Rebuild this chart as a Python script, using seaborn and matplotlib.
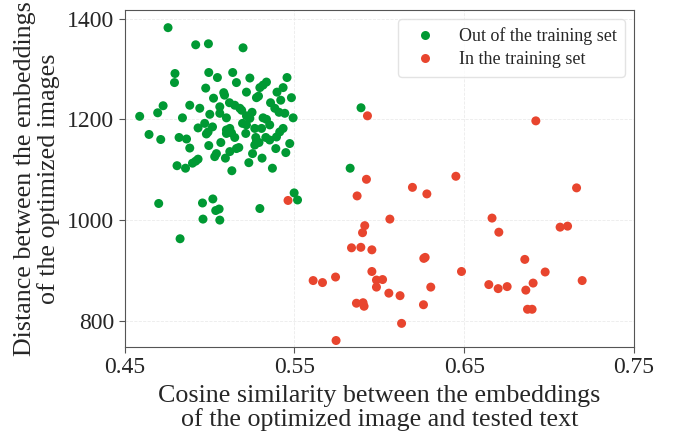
import pandas as pd
import seaborn as sns
import matplotlib.pyplot as plt

# --- Out of the training set (green)
out_sim = [0.4755, 0.4918, 0.4993, 0.5197, 0.4796, 0.4793, 0.4995, 0.5046, 0.5136, 0.5158,
           0.5237, 0.5335, 0.5456, 0.4977, 0.5083, 0.5088, 0.5217, 0.5296, 0.5315, 0.5433,
           0.5397, 0.5023, 0.5276, 0.5288, 0.5482, 0.5359, 0.5419, 0.4726, 0.4694, 0.4883,
           0.4942, 0.5060, 0.5117, 0.5148, 0.5178, 0.5189, 0.5060, 0.5001, 0.5250, 0.5217,
           0.5384, 0.5409, 0.5443, 0.4588, 0.4840, 0.5099, 0.5315, 0.5335, 0.5492, 0.5237,
           0.4971, 0.4932, 0.5017, 0.5194, 0.5217, 0.5119, 0.5099, 0.5266, 0.5306, 0.5354,
           0.5433, 0.5413, 0.4643, 0.4712, 0.4820, 0.4864, 0.4981, 0.4991, 0.5099, 0.5148,
           0.5213, 0.5272, 0.5331, 0.5394, 0.5129, 0.5354, 0.4883, 0.4995, 0.5066, 0.5119,
           0.5158, 0.5172, 0.5266, 0.5291, 0.5276, 0.5253, 0.5390, 0.5472, 0.5449, 0.5040,
           0.5030, 0.5093, 0.4932, 0.4899, 0.4918, 0.5231, 0.5309, 0.4808, 0.4858, 0.5131,
           0.5370, 0.5498, 0.5518, 0.4700, 0.4958, 0.5019, 0.5036, 0.5056, 0.5296, 0.4961,
           0.5060, 0.4826, 0.5892, 0.5828]
out_dist = [1382, 1348, 1350, 1342, 1291, 1273, 1293, 1283, 1293, 1273,
            1282, 1274, 1283, 1262, 1253, 1248, 1254, 1263, 1268, 1263,
            1254, 1242, 1243, 1246, 1243, 1233, 1238, 1227, 1213, 1228,
            1222, 1225, 1233, 1228, 1222, 1218, 1212, 1210, 1214, 1207,
            1222, 1214, 1212, 1206, 1203, 1203, 1203, 1200, 1203, 1202,
            1192, 1183, 1185, 1192, 1189, 1182, 1179, 1182, 1182, 1189,
            1182, 1175, 1170, 1160, 1164, 1161, 1171, 1175, 1172, 1164,
            1172, 1164, 1164, 1165, 1173, 1159, 1143, 1148, 1154, 1136,
            1142, 1144, 1149, 1154, 1157, 1132, 1142, 1152, 1134, 1132,
            1126, 1123, 1121, 1113, 1117, 1114, 1123, 1108, 1103, 1098,
            1103, 1054, 1040, 1033, 1034, 1042, 1019, 1022, 1023, 1002,
            1000, 963, 1223, 1103]

# --- In the training set (red)
in_sim = [0.5462, 0.5930, 0.5924, 0.5869, 0.6195, 0.6280, 0.6451, 0.6062, 0.5914, 0.5901,
          0.5836, 0.5891, 0.5956, 0.6262, 0.6270, 0.6484, 0.5956, 0.5610, 0.5665, 0.5742,
          0.5983, 0.6019, 0.5983, 0.6056, 0.6122, 0.6303, 0.5865, 0.5904, 0.5910, 0.6260,
          0.6131, 0.5745, 0.6922, 0.7162, 0.6664, 0.6704, 0.7065, 0.7109, 0.6857, 0.6977,
          0.6645, 0.6700, 0.6753, 0.6863, 0.6906, 0.7195, 0.6873, 0.6900]
in_dist = [1039, 1207, 1081, 1048, 1065, 1052, 1087, 1002, 989, 975,
           945, 946, 941, 924, 926, 898, 898, 880, 876, 887,
           881, 882, 867, 855, 850, 867, 835, 836, 829, 832,
           795, 761, 1197, 1064, 1004, 976, 986, 988, 922, 897,
           872, 864, 868, 861, 875, 880, 823, 823]

groups = ['Out of the training set', 'In the training set']
df = pd.concat([
    pd.DataFrame({'sim': out_sim, 'dist': out_dist, 'group': groups[0]}),
    pd.DataFrame({'sim': in_sim, 'dist': in_dist, 'group': groups[1]}),
])

sns.set_style('whitegrid', {'grid.color': '#ebebeb', 'grid.linestyle': '--',
                            'axes.edgecolor': '#555555'})
plt.rcParams['font.family'] = ['Liberation Serif', 'DejaVu Serif']

fig, ax = plt.subplots(figsize=(6.78, 4.36), dpi=100)
fig.subplots_adjust(left=0.184, right=0.935, top=0.977, bottom=0.204)

sns.scatterplot(data=df, x='sim', y='dist', hue='group', hue_order=groups,
                palette=['#009933', '#e8452e'], s=42, linewidth=0, ax=ax)

ax.set_xlim(0.45, 0.75)
ax.set_ylim(748, 1417)
ax.set_xticks([0.45, 0.55, 0.65, 0.75])
ax.set_xticklabels(['0.45', '0.55', '0.65', '0.75'])
ax.set_yticks([800, 1000, 1200, 1400])
ax.tick_params(axis='both', labelsize=17, length=4, color='#555555', bottom=True, left=True)
ax.grid(linewidth=0.6)

ax.set_xlabel('Cosine similarity between the embeddings\nof the optimized image and tested text',
              fontsize=18.7, labelpad=5, linespacing=1.05)
ax.set_ylabel('Distance between the embeddings\nof the optimized images', fontsize=18.7,
              labelpad=5, linespacing=1.05)

leg = ax.legend(loc='upper right', fontsize=13, markerscale=1.0, handletextpad=0.9,
                borderpad=0.45, labelspacing=0.35, frameon=True)
leg.get_frame().set_edgecolor('#dddddd')

plt.savefig('out.png', dpi=100)
